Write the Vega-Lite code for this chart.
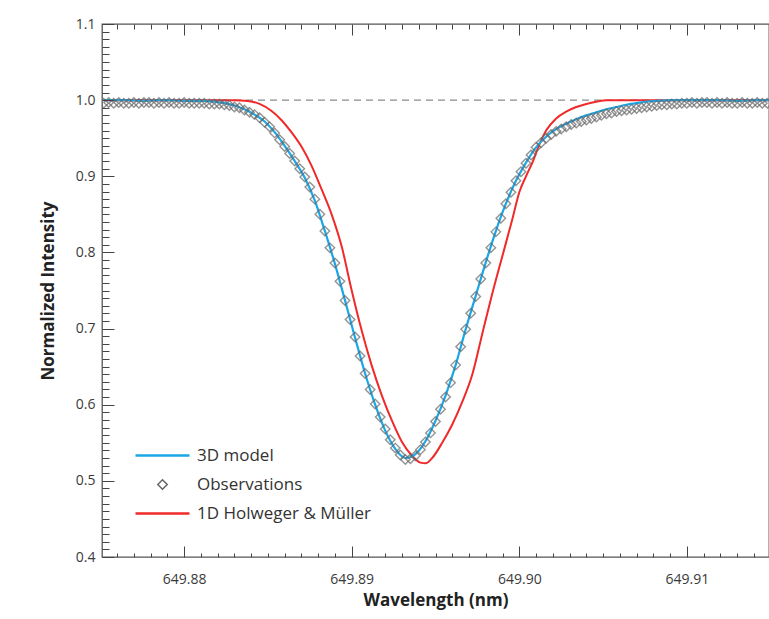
{
  "$schema": "https://vega.github.io/schema/vega-lite/v6.json",
  "width": 667,
  "height": 533,
  "autosize": "none",
  "padding": {"left": 102, "top": 24, "right": 0, "bottom": 62},
  "background": "white",
  "config": {
    "view": {"stroke": "#555", "strokeWidth": 1.3, "fill": null},
    "font": "Open Sans",
    "axis": {"ticks": true, "tickOpacity": 1, "tickColor": "#444", "tickWidth": 1, "zindex": 2, "domain": false, "grid": false}
  },
  "datasets": {
    "obs": [
      {"wl":649.8752,"I":0.996},{"wl":649.8755,"I":0.997},{"wl":649.8758,"I":0.996},{"wl":649.8761,"I":0.997},{"wl":649.8764,"I":0.996},
      {"wl":649.8767,"I":0.996},{"wl":649.8770,"I":0.997},{"wl":649.8773,"I":0.996},{"wl":649.8776,"I":0.997},{"wl":649.8779,"I":0.997},
      {"wl":649.8782,"I":0.996},{"wl":649.8785,"I":0.997},{"wl":649.8788,"I":0.996},{"wl":649.8791,"I":0.997},{"wl":649.8794,"I":0.996},
      {"wl":649.8797,"I":0.996},{"wl":649.8800,"I":0.997},{"wl":649.8803,"I":0.996},{"wl":649.8806,"I":0.996},{"wl":649.8809,"I":0.996},
      {"wl":649.8812,"I":0.996},{"wl":649.8815,"I":0.995},{"wl":649.8818,"I":0.995},{"wl":649.8821,"I":0.995},{"wl":649.8824,"I":0.994},
      {"wl":649.8827,"I":0.993},{"wl":649.8830,"I":0.991},{"wl":649.8833,"I":0.990},{"wl":649.8836,"I":0.987},{"wl":649.8839,"I":0.984},
      {"wl":649.8842,"I":0.981},{"wl":649.8845,"I":0.977},{"wl":649.8848,"I":0.971},{"wl":649.8851,"I":0.965},{"wl":649.8854,"I":0.957},
      {"wl":649.8857,"I":0.948},{"wl":649.8860,"I":0.939},{"wl":649.8863,"I":0.930},{"wl":649.8866,"I":0.920},{"wl":649.8869,"I":0.910},
      {"wl":649.8872,"I":0.899},{"wl":649.8875,"I":0.886},{"wl":649.8878,"I":0.870},{"wl":649.8881,"I":0.850},{"wl":649.8884,"I":0.828},
      {"wl":649.8887,"I":0.806},{"wl":649.8890,"I":0.786},{"wl":649.8893,"I":0.762},{"wl":649.8896,"I":0.737},{"wl":649.8899,"I":0.712},
      {"wl":649.8902,"I":0.689},{"wl":649.8905,"I":0.664},{"wl":649.8908,"I":0.641},{"wl":649.8911,"I":0.620},{"wl":649.8914,"I":0.601},
      {"wl":649.8917,"I":0.584},{"wl":649.8920,"I":0.568},{"wl":649.8923,"I":0.554},{"wl":649.8926,"I":0.543},{"wl":649.8929,"I":0.534},
      {"wl":649.8932,"I":0.528},{"wl":649.8935,"I":0.529},{"wl":649.8938,"I":0.533},{"wl":649.8941,"I":0.541},{"wl":649.8944,"I":0.551},
      {"wl":649.8947,"I":0.563},{"wl":649.8950,"I":0.578},{"wl":649.8953,"I":0.594},{"wl":649.8956,"I":0.610},{"wl":649.8959,"I":0.629},
      {"wl":649.8962,"I":0.652},{"wl":649.8965,"I":0.676},{"wl":649.8968,"I":0.699},{"wl":649.8971,"I":0.720},{"wl":649.8974,"I":0.742},
      {"wl":649.8977,"I":0.765},{"wl":649.8980,"I":0.786},{"wl":649.8983,"I":0.806},{"wl":649.8986,"I":0.827},{"wl":649.8989,"I":0.845},
      {"wl":649.8992,"I":0.864},{"wl":649.8995,"I":0.879},{"wl":649.8998,"I":0.894},{"wl":649.9001,"I":0.906},{"wl":649.9004,"I":0.917},
      {"wl":649.9007,"I":0.928},{"wl":649.9010,"I":0.938},{"wl":649.9013,"I":0.944},{"wl":649.9016,"I":0.950},{"wl":649.9019,"I":0.955},
      {"wl":649.9022,"I":0.959},{"wl":649.9025,"I":0.962},{"wl":649.9028,"I":0.965},{"wl":649.9031,"I":0.968},{"wl":649.9034,"I":0.970},
      {"wl":649.9037,"I":0.972},{"wl":649.9040,"I":0.974},{"wl":649.9043,"I":0.976},{"wl":649.9046,"I":0.978},{"wl":649.9049,"I":0.980},
      {"wl":649.9052,"I":0.982},{"wl":649.9055,"I":0.983},{"wl":649.9058,"I":0.985},{"wl":649.9061,"I":0.986},{"wl":649.9064,"I":0.987},
      {"wl":649.9067,"I":0.988},{"wl":649.9070,"I":0.989},{"wl":649.9073,"I":0.990},{"wl":649.9076,"I":0.991},{"wl":649.9079,"I":0.992},
      {"wl":649.9082,"I":0.993},{"wl":649.9085,"I":0.994},{"wl":649.9088,"I":0.994},{"wl":649.9091,"I":0.995},{"wl":649.9094,"I":0.995},
      {"wl":649.9097,"I":0.996},{"wl":649.9100,"I":0.996},{"wl":649.9103,"I":0.997},{"wl":649.9106,"I":0.996},{"wl":649.9109,"I":0.997},
      {"wl":649.9112,"I":0.997},{"wl":649.9115,"I":0.996},{"wl":649.9118,"I":0.997},{"wl":649.9121,"I":0.996},{"wl":649.9124,"I":0.997},
      {"wl":649.9127,"I":0.996},{"wl":649.9130,"I":0.996},{"wl":649.9133,"I":0.997},{"wl":649.9136,"I":0.996},{"wl":649.9139,"I":0.996},
      {"wl":649.9142,"I":0.997},{"wl":649.9145,"I":0.996},{"wl":649.9148,"I":0.996}
    ],
    "m3d": [
      {"wl":649.8752,"I":1.000},{"wl":649.8764,"I":1.000},{"wl":649.8776,"I":0.999},{"wl":649.8788,"I":1.000},{"wl":649.8800,"I":0.999},
      {"wl":649.8812,"I":0.999},{"wl":649.8818,"I":0.998},{"wl":649.8824,"I":0.996},{"wl":649.8830,"I":0.993},{"wl":649.8836,"I":0.988},
      {"wl":649.8842,"I":0.981},{"wl":649.8848,"I":0.972},{"wl":649.8854,"I":0.958},{"wl":649.8860,"I":0.940},{"wl":649.8866,"I":0.920},
      {"wl":649.8872,"I":0.898},{"wl":649.8878,"I":0.868},{"wl":649.8884,"I":0.828},{"wl":649.8890,"I":0.785},{"wl":649.8896,"I":0.737},
      {"wl":649.8902,"I":0.688},{"wl":649.8908,"I":0.641},{"wl":649.8914,"I":0.600},{"wl":649.8920,"I":0.566},{"wl":649.8926,"I":0.542},
      {"wl":649.8929,"I":0.534},{"wl":649.8932,"I":0.530},{"wl":649.8935,"I":0.531},{"wl":649.8938,"I":0.535},{"wl":649.8944,"I":0.552},
      {"wl":649.8950,"I":0.579},{"wl":649.8956,"I":0.612},{"wl":649.8962,"I":0.652},{"wl":649.8968,"I":0.699},{"wl":649.8974,"I":0.743},
      {"wl":649.8980,"I":0.787},{"wl":649.8986,"I":0.828},{"wl":649.8992,"I":0.864},{"wl":649.8998,"I":0.894},{"wl":649.9004,"I":0.918},
      {"wl":649.9010,"I":0.938},{"wl":649.9016,"I":0.952},{"wl":649.9022,"I":0.962},{"wl":649.9028,"I":0.969},{"wl":649.9034,"I":0.975},
      {"wl":649.9040,"I":0.980},{"wl":649.9046,"I":0.984},{"wl":649.9052,"I":0.988},{"wl":649.9058,"I":0.991},{"wl":649.9064,"I":0.994},
      {"wl":649.9070,"I":0.996},{"wl":649.9076,"I":0.998},{"wl":649.9082,"I":0.999},{"wl":649.9094,"I":1.000},{"wl":649.9106,"I":1.000},
      {"wl":649.9118,"I":1.000},{"wl":649.9130,"I":0.999},{"wl":649.9142,"I":1.000},{"wl":649.9149,"I":1.000}
    ],
    "m1d": [
      {"wl":649.8752,"I":1.000},{"wl":649.8800,"I":1.000},{"wl":649.8830,"I":1.000},{"wl":649.8838,"I":0.999},{"wl":649.8845,"I":0.995},
      {"wl":649.8852,"I":0.986},{"wl":649.8858,"I":0.974},{"wl":649.8864,"I":0.958},{"wl":649.8870,"I":0.939},{"wl":649.8876,"I":0.914},
      {"wl":649.8882,"I":0.883},{"wl":649.8888,"I":0.850},{"wl":649.8894,"I":0.808},{"wl":649.8900,"I":0.750},{"wl":649.8906,"I":0.697},
      {"wl":649.8912,"I":0.651},{"wl":649.8918,"I":0.612},{"wl":649.8924,"I":0.579},{"wl":649.8930,"I":0.551},{"wl":649.8936,"I":0.533},
      {"wl":649.8941,"I":0.524},{"wl":649.8944,"I":0.523},{"wl":649.8948,"I":0.530},{"wl":649.8954,"I":0.550},{"wl":649.8960,"I":0.574},
      {"wl":649.8966,"I":0.604},{"wl":649.8972,"I":0.640},{"wl":649.8978,"I":0.694},{"wl":649.8984,"I":0.747},{"wl":649.8990,"I":0.796},
      {"wl":649.8996,"I":0.845},{"wl":649.9000,"I":0.879},{"wl":649.9004,"I":0.900},{"wl":649.9008,"I":0.919},{"wl":649.9012,"I":0.942},
      {"wl":649.9016,"I":0.960},{"wl":649.9022,"I":0.976},{"wl":649.9028,"I":0.985},{"wl":649.9034,"I":0.991},{"wl":649.9040,"I":0.995},
      {"wl":649.9046,"I":0.998},{"wl":649.9052,"I":1.000},{"wl":649.9100,"I":1.000},{"wl":649.9149,"I":1.000}
    ]
  },
  "layer": [
    {
      "data": {"values": [{}]},
      "mark": {"type": "rule", "stroke": "#8a8a8a", "strokeDash": [7, 5], "strokeWidth": 1.2},
      "encoding": {
        "x": {
          "datum": 649.8751, "type": "quantitative",
          "axis": {
            "orient": "top", "offset": -11, "zindex": 2,
            "values": [649.88, 649.89, 649.9, 649.91],
            "labels": false, "title": null, "domain": false, "grid": false,
            "ticks": true, "tickSize": 11, "tickColor": "#444", "tickWidth": 1, "tickOpacity": 1
          }
        },
        "x2": {"datum": 649.9149},
        "y": {"datum": 1, "type": "quantitative", "axis": null}
      }
    },
    {
      "data": {"name": "m1d"},
      "mark": {"type": "line", "strokeWidth": 2, "interpolate": "monotone", "clip": true},
      "encoding": {
        "x": {
          "field": "wl", "type": "quantitative",
          "scale": {"domain": [649.8751, 649.9149], "nice": false, "zero": false},
          "axis": {
            "orient": "bottom", "offset": -11, "zindex": 2,
            "values": [649.88, 649.89, 649.9, 649.91],
            "format": ".2f", "domain": false, "grid": false,
            "ticks": true, "tickSize": 11, "tickColor": "#444", "tickWidth": 1, "tickOpacity": 1,
            "labelFont": "Open Sans", "labelFontSize": 14, "labelColor": "#3a3a3a",
            "labelPadding": 15, "labelFlush": false, "labelOverlap": false,
            "title": "Wavelength (nm)", "titleFont": "Open Sans", "titleFontSize": 17,
            "titleFontWeight": "bold", "titleColor": "#222", "titlePadding": 6
          }
        },
        "y": {
          "field": "I", "type": "quantitative",
          "scale": {"domain": [0.4, 1.1], "nice": false, "zero": false},
          "axis": {
            "orient": "left", "offset": -12, "zindex": 2,
            "values": [0.4, 0.5, 0.6, 0.7, 0.8, 0.9, 1.0, 1.1],
            "format": ".1f", "domain": false, "grid": false,
            "ticks": true, "tickSize": 12, "tickColor": "#444", "tickWidth": 1, "tickOpacity": 1,
            "labelFont": "Open Sans", "labelFontSize": 14, "labelColor": "#3a3a3a",
            "labelPadding": 7, "labelFlush": false, "labelOverlap": false,
            "title": "Normalized Intensity", "titleFont": "Open Sans", "titleFontSize": 17,
            "titleFontWeight": "bold", "titleColor": "#222", "titlePadding": 18
          }
        },
        "color": {
          "datum": "1D Holweger & Müller",
          "scale": {"domain": ["3D model", "Observations", "1D Holweger & Müller"], "range": ["#1aa7e8", "#666666", "#f02a2a"]},
          "legend": {
            "orient": "none", "legendX": 52, "legendY": 423, "title": null, "padding": 0,
            "symbolType": "M-3,0L3,0", "symbolSize": 324, "symbolStrokeWidth": 2.5,
            "labelFont": "Open Sans", "labelFontSize": 17, "labelColor": "#333", "labelLimit": 400,
            "labelOffset": 26, "rowPadding": 11,
            "encode": {
              "symbols": {
                "update": {
                  "shape": {"signal": "datum.value === 'Observations' ? 'diamond' : 'M-3,0L3,0'"},
                  "size": {"signal": "datum.value === 'Observations' ? 90 : 324"},
                  "strokeWidth": {"signal": "datum.value === 'Observations' ? 1.5 : 2.5"},
                  "fill": {"value": "transparent"}
                }
              }
            }
          }
        }
      }
    },
    {
      "data": {"name": "m3d"},
      "mark": {"type": "line", "strokeWidth": 2.2, "interpolate": "monotone", "clip": true},
      "encoding": {
        "x": {
          "field": "wl", "type": "quantitative",
          "axis": {
            "orient": "bottom", "offset": -4, "zindex": 2,
            "values": [649.876,649.877,649.878,649.879,649.881,649.882,649.883,649.884,649.885,649.886,649.887,649.888,649.889,649.891,649.892,649.893,649.894,649.895,649.896,649.897,649.898,649.899,649.901,649.902,649.903,649.904,649.905,649.906,649.907,649.908,649.909,649.911,649.912,649.913,649.914],
            "labels": false, "title": null, "domain": false, "grid": false,
            "ticks": true, "tickSize": 4, "tickColor": "#444", "tickWidth": 1, "tickOpacity": 1
          }
        },
        "y": {
          "field": "I", "type": "quantitative",
          "axis": {
            "orient": "left", "offset": -7, "zindex": 2,
            "values": [0.41,0.42,0.43,0.44,0.45,0.46,0.47,0.48,0.49,0.51,0.52,0.53,0.54,0.55,0.56,0.57,0.58,0.59,0.61,0.62,0.63,0.64,0.65,0.66,0.67,0.68,0.69,0.71,0.72,0.73,0.74,0.75,0.76,0.77,0.78,0.79,0.81,0.82,0.83,0.84,0.85,0.86,0.87,0.88,0.89,0.91,0.92,0.93,0.94,0.95,0.96,0.97,0.98,0.99,1.01,1.02,1.03,1.04,1.05,1.06,1.07,1.08,1.09],
            "labels": false, "title": null, "domain": false, "grid": false,
            "ticks": true, "tickSize": 7, "tickColor": "#444", "tickWidth": 1, "tickOpacity": 1
          }
        },
        "color": {"datum": "3D model"}
      }
    },
    {
      "data": {"name": "obs"},
      "mark": {"type": "point", "shape": "diamond", "filled": false, "size": 90, "strokeWidth": 1.4, "clip": true},
      "encoding": {
        "x": {
          "field": "wl", "type": "quantitative",
          "axis": {
            "orient": "top", "offset": -5, "zindex": 2,
            "values": [649.876,649.877,649.878,649.879,649.881,649.882,649.883,649.884,649.885,649.886,649.887,649.888,649.889,649.891,649.892,649.893,649.894,649.895,649.896,649.897,649.898,649.899,649.901,649.902,649.903,649.904,649.905,649.906,649.907,649.908,649.909,649.911,649.912,649.913,649.914],
            "labels": false, "title": null, "domain": false, "grid": false,
            "ticks": true, "tickSize": 5, "tickColor": "#444", "tickWidth": 1, "tickOpacity": 1
          }
        },
        "y": {"field": "I", "type": "quantitative", "axis": null},
        "color": {"datum": "Observations"}
      }
    }
  ],
  "resolve": {"axis": {"x": "independent", "y": "independent"}}
}
